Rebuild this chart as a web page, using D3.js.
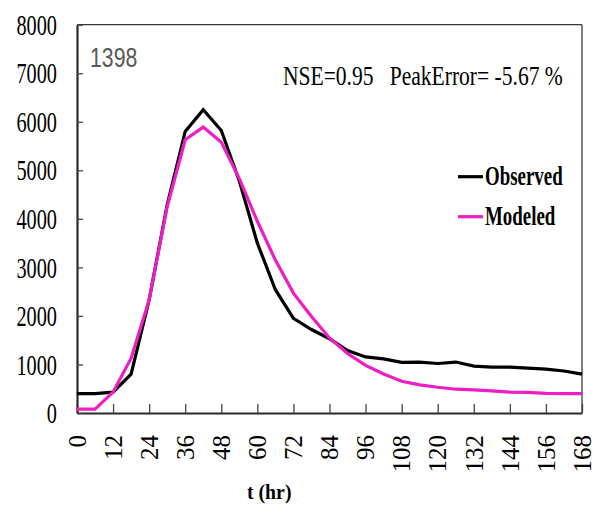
<!DOCTYPE html>
<html><head><meta charset="utf-8">
<script src="https://cdn.jsdelivr.net/npm/d3@7"></script>
<style>body{margin:0;background:#fff}svg{display:block}</style>
</head><body>
<svg id="c" width="593" height="506"></svg>
<script>
const hours = [0,6,12,18,24,30,36,42,48,54,60,66,72,78,84,90,96,102,108,114,120,126,132,138,144,150,156,162,168];
const observed = [400,400,430,800,2330,4290,5800,6250,5820,4780,3500,2540,1950,1720,1530,1285,1155,1115,1045,1050,1020,1050,965,945,945,925,905,865,800];
const modeled = [80,80,430,1130,2330,4250,5630,5890,5580,4830,3950,3150,2470,1990,1546,1225,980,805,655,580,530,490,475,455,430,425,405,400,400];
const xTicks = [0,12,24,36,48,60,72,84,96,108,120,132,144,156,168];
const yTicks = [0,1000,2000,3000,4000,5000,6000,7000,8000];
const seriesNames = ["Observed","Modeled"];
const seriesColors = ["#000000","#ee1ec4"];
const statsText = "NSE=0.95   PeakError= -5.67 %";
const eventLabel = "1398";
const xTitle = "t (hr)";

const svg = d3.select("#c");
const L=77, R=582, T=24.7, B=413;
const x = d3.scaleLinear().domain([0,168]).range([L,R]);
const y = d3.scaleLinear().domain([0,8000]).range([B,T]);
const serif = "'Liberation Serif','Times New Roman',serif";

// frame top/right
svg.append("line").attr("x1",L).attr("x2",R).attr("y1",T).attr("y2",T).attr("stroke","#3a3a3a").attr("stroke-width",1.3);
svg.append("line").attr("x1",R).attr("x2",R).attr("y1",T).attr("y2",B).attr("stroke","#3a3a3a").attr("stroke-width",1.3);

// x axis
const xa = svg.append("g").attr("transform",`translate(0,${B})`)
  .call(d3.axisBottom(x).tickValues(xTicks).tickSizeInner(-9).tickSizeOuter(0).tickFormat(""));
xa.select(".domain").attr("stroke","#2a2a2a").attr("stroke-width",2.2);
xa.selectAll(".tick line").attr("stroke","#444").attr("stroke-width",1.3);
svg.append("g").selectAll("text").data(xTicks).join("text")
  .attr("transform",d=>`translate(${x(d)},435) rotate(-90)`)
  .attr("text-anchor","end").attr("dy","0.35em")
  .style("font-family",serif).style("font-size","25px").attr("fill","#000")
  .text(d=>d);

// y axis
const ya = svg.append("g").attr("transform",`translate(${L},0)`)
  .call(d3.axisLeft(y).tickValues(yTicks).tickSizeInner(-6).tickSizeOuter(0).tickFormat(""));
ya.select(".domain").attr("stroke","#2a2a2a").attr("stroke-width",2.2);
ya.selectAll(".tick line").attr("stroke","#444").attr("stroke-width",1.3);
svg.append("g").selectAll("text").data(yTicks).join("text")
  .attr("transform",d=>`translate(57,${y(d)}) scale(0.7,1)`)
  .attr("text-anchor","end").attr("dy","0.35em")
  .style("font-family",serif).style("font-size","29px").attr("fill","#000")
  .text(d=>d);

// lines
const line = d3.line().x((d,i)=>x(hours[i])).y(d=>y(d));
[observed, modeled].forEach((s,k)=>{
  svg.append("path").datum(s).attr("d",line).attr("fill","none")
    .attr("stroke",seriesColors[k]).attr("stroke-width",3.2).attr("stroke-linejoin","miter");
});

// texts
svg.append("text").attr("transform","translate(90,67) scale(0.76,1)")
  .style("font-family","'Liberation Sans',Arial,sans-serif").style("font-size","28px").attr("fill","#595959").text(eventLabel);
svg.append("text").attr("transform","translate(283,85) scale(0.77,1)")
  .style("font-family",serif).style("font-size","28px").style("white-space","pre").attr("fill","#000").text(statsText);

// legend
const legY = [176.7, 216.7];
seriesNames.forEach((n,k)=>{
  svg.append("line").attr("x1",458).attr("x2",483).attr("y1",legY[k]).attr("y2",legY[k])
    .attr("stroke",seriesColors[k]).attr("stroke-width",3.2);
  svg.append("text").attr("transform",`translate(485,${legY[k]+8}) scale(0.7,1)`)
    .style("font-family",serif).style("font-size","27px").style("font-weight","bold").attr("fill","#000").text(n);
});

// x title
svg.append("text").attr("transform","translate(247,499) scale(0.9,1)")
  .style("font-family",serif).style("font-size","22px").style("font-weight","bold").attr("fill","#000").text(xTitle);
</script>
</body></html>
